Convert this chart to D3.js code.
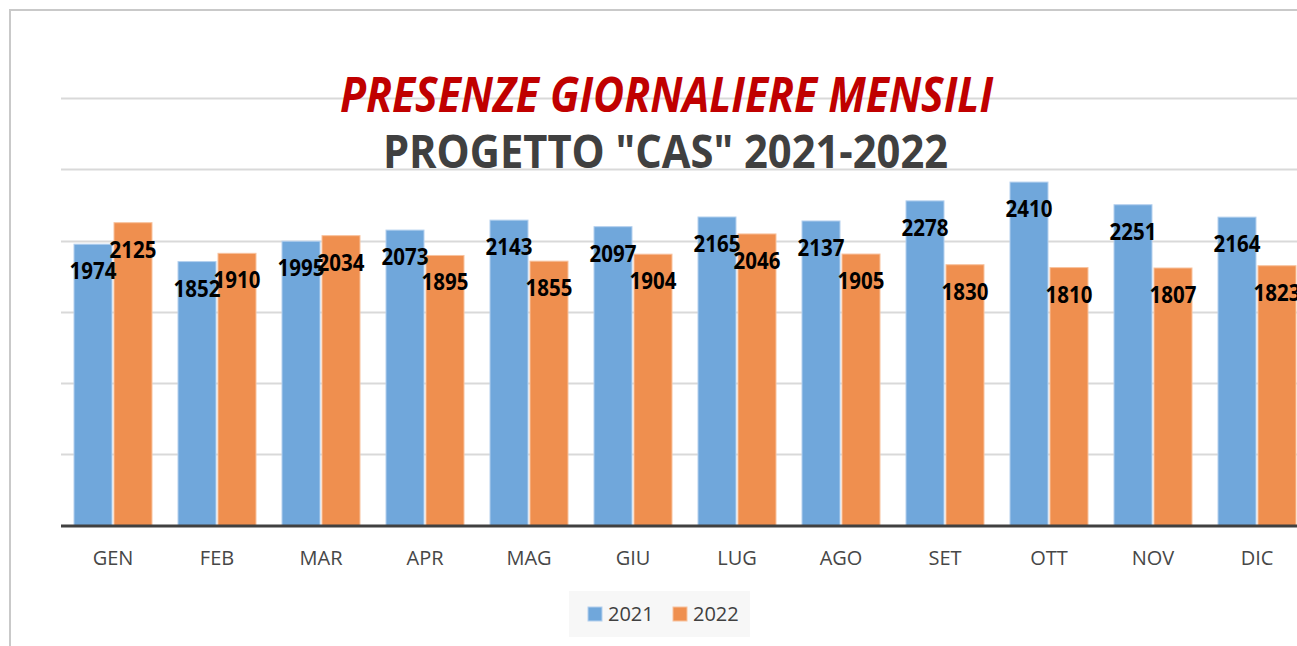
<!DOCTYPE html>
<html>
<head>
<meta charset="utf-8">
<script src="https://cdn.jsdelivr.net/npm/d3@7"></script>
<style>
  body { margin: 0; background: #fff; }
  text { font-family: "Open Sans", sans-serif; }
</style>
</head>
<body>
<svg width="1297" height="646"></svg>
<script>
var months = ["GEN", "FEB", "MAR", "APR", "MAG", "GIU", "LUG", "AGO", "SET", "OTT", "NOV", "DIC"];
var series = ["2021", "2022"];
var values2021 = [1974, 1852, 1995, 2073, 2143, 2097, 2165, 2137, 2278, 2410, 2251, 2164];
var values2022 = [2125, 1910, 2034, 1895, 1855, 1904, 2046, 1905, 1830, 1810, 1807, 1823];
var gridTicks = [0, 500, 1000, 1500, 2000, 2500, 3000];
var colors = ["#70a7db", "#ef8f4f"];
var strokes = ["#b4d0ee", "#f8c29e"];

var svg = d3.select("svg"),
    width = +svg.attr("width"),
    height = +svg.attr("height");

// chart frame (only left and top edges are visible in the crop)
svg.append("path")
    .attr("d", "M10,646V10H1297")
    .attr("fill", "none")
    .attr("stroke", "#c9c9c9")
    .attr("stroke-width", 2);

var x0 = d3.scaleBand()
    .domain(months)
    .range([61, 1309])
    .paddingInner(0.25)
    .paddingOuter(0.125);

var x1 = d3.scaleBand()
    .domain(series)
    .range([0, x0.bandwidth()])
    .paddingInner(0.05);

var y = d3.scaleLinear()
    .domain([0, 3000])
    .range([525.5, 98]);

var color = d3.scaleOrdinal().domain(series).range(colors);
var strokeColor = d3.scaleOrdinal().domain(series).range(strokes);

// gridlines
svg.append("g")
    .selectAll("line")
    .data(gridTicks.slice(1))
    .enter().append("line")
    .attr("x1", 61)
    .attr("x2", width)
    .attr("y1", function(d) { return Math.round(y(d)) + 0.5; })
    .attr("y2", function(d) { return Math.round(y(d)) + 0.5; })
    .attr("stroke", "#d9d9d9")
    .attr("stroke-width", 2);

var data = months.map(function(m, i) {
  return { month: m, vals: [{ s: "2021", v: values2021[i] }, { s: "2022", v: values2022[i] }] };
});

var groups = svg.append("g")
    .selectAll("g")
    .data(data)
    .enter().append("g")
    .attr("transform", function(d) { return "translate(" + x0(d.month) + ",0)"; });

groups.selectAll("rect")
    .data(function(d) { return d.vals; })
    .enter().append("rect")
    .attr("x", function(d) { return x1(d.s); })
    .attr("y", function(d) { return y(d.v); })
    .attr("width", x1.bandwidth())
    .attr("height", function(d) { return y(0) - y(d.v); })
    .attr("fill", function(d) { return color(d.s); })
    .attr("stroke", function(d) { return strokeColor(d.s); })
    .attr("stroke-width", 1);

// baseline
svg.append("line")
    .attr("x1", 61)
    .attr("x2", width)
    .attr("y1", y(0) + 0.5)
    .attr("y2", y(0) + 0.5)
    .attr("stroke", "#404040")
    .attr("stroke-width", 3);

// value labels (stretched a little in height, the original font is taller and narrower)
groups.selectAll("text.val")
    .data(function(d) { return d.vals; })
    .enter().append("text")
    .attr("class", "val")
    .attr("transform", function(d) {
      return "translate(" + (x1(d.s) + x1.bandwidth() / 2) + "," + (y(d.v) + 35) + ") scale(1,1.1)";
    })
    .attr("text-anchor", "middle")
    .style("font-size", "20.5px")
    .style("font-weight", "bold")
    .attr("fill", "#000")
    .text(function(d) { return d.v; });

// month labels
svg.append("g")
    .selectAll("text")
    .data(months)
    .enter().append("text")
    .attr("x", function(d) { return x0(d) + x0.bandwidth() / 2; })
    .attr("y", 565)
    .attr("text-anchor", "middle")
    .style("font-size", "20px")
    .attr("fill", "#474747")
    .text(function(d) { return d; });

// titles, sized to the width they take in the picture
function fitText(sel, targetWidth) {
  var len = sel.node().getComputedTextLength();
  sel.style("font-size", (40 * targetWidth / len) + "px");
}

var t1 = svg.append("text")
    .attr("transform", "translate(666.5,112) scale(1,1.13)")
    .attr("text-anchor", "middle")
    .style("font-size", "40px")
    .style("font-weight", "bold")
    .style("font-style", "italic")
    .attr("fill", "#c00000")
    .text("PRESENZE GIORNALIERE MENSILI");
fitText(t1, 653);

var t2 = svg.append("text")
    .attr("transform", "translate(665.5,168) scale(1,1.13)")
    .attr("text-anchor", "middle")
    .style("font-size", "40px")
    .style("font-weight", "bold")
    .attr("fill", "#404040")
    .text("PROGETTO \"CAS\" 2021-2022");
fitText(t2, 565);

// legend
var legend = svg.append("g");
legend.append("rect")
    .attr("x", 569)
    .attr("y", 591)
    .attr("width", 181)
    .attr("height", 46)
    .attr("fill", "#f7f7f7");

var legendX = [588, 673];
var item = legend.selectAll("g")
    .data(series)
    .enter().append("g")
    .attr("transform", function(d, i) { return "translate(" + legendX[i] + ",607)"; });

item.append("rect")
    .attr("width", 14)
    .attr("height", 14)
    .attr("fill", function(d) { return color(d); })
    .attr("stroke", function(d) { return strokeColor(d); });

item.append("text")
    .attr("x", 20)
    .attr("y", 14)
    .style("font-size", "20px")
    .attr("fill", "#404040")
    .text(function(d) { return d; });
</script>
</body>
</html>
